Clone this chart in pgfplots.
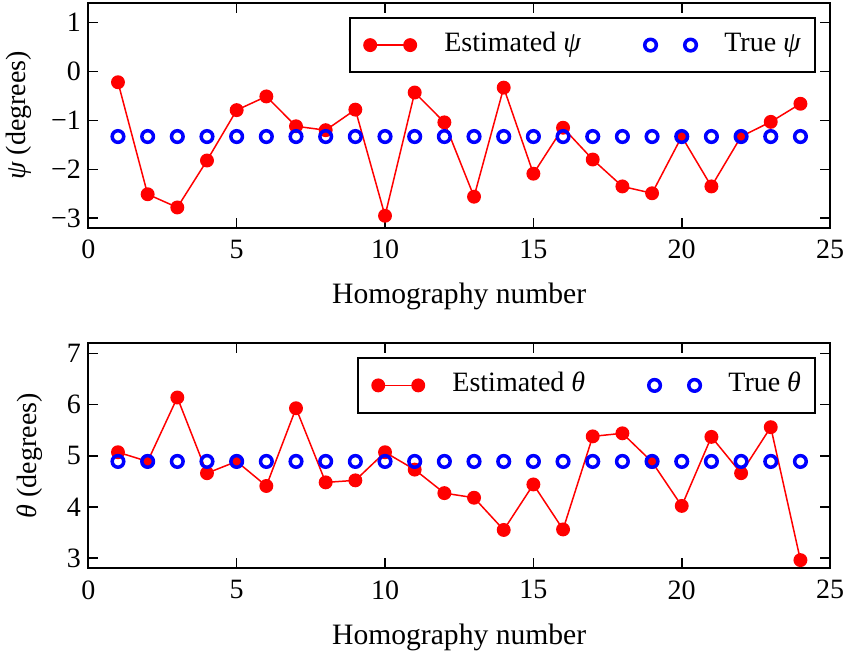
\documentclass[border=0pt]{standalone}
\usepackage{fontspec}
\setmainfont{Liberation Serif}
\usepackage{pgfplots}
\usepackage{pgfplotstable}
\pgfplotsset{compat=1.18}

% Estimated and true yaw angle per homography
\pgfplotstableread{
n  est    tru
1  -0.22  -1.33
2  -2.51  -1.33
3  -2.78  -1.33
4  -1.82  -1.33
5  -0.79  -1.33
6  -0.51  -1.33
7  -1.12  -1.33
8  -1.20  -1.33
9  -0.78  -1.33
10 -2.95  -1.33
11 -0.43  -1.33
12 -1.04  -1.33
13 -2.56  -1.33
14 -0.33  -1.33
15 -2.09  -1.33
16 -1.15  -1.33
17 -1.80  -1.33
18 -2.35  -1.33
19 -2.49  -1.33
20 -1.33  -1.33
21 -2.35  -1.33
22 -1.33  -1.33
23 -1.03  -1.33
24 -0.66  -1.33
}\psidata

% Estimated and true pitch angle per homography
\pgfplotstableread{
n  est   tru
1  5.07  4.89
2  4.89  4.89
3  6.14  4.89
4  4.66  4.89
5  4.89  4.89
6  4.41  4.89
7  5.93  4.89
8  4.48  4.89
9  4.52  4.89
10 5.07  4.89
11 4.73  4.89
12 4.27  4.89
13 4.18  4.89
14 3.55  4.89
15 4.44  4.89
16 3.56  4.89
17 5.38  4.89
18 5.44  4.89
19 4.88  4.89
20 4.02  4.89
21 5.37  4.89
22 4.66  4.89
23 5.56  4.89
24 2.96  4.89
}\thetadata

\pgfplotsset{
  hom/.style={
    scale only axis, width=370.9pt, height=112.5pt,
    xmin=0, xmax=25, xtick={0,5,...,25},
    axis line style={line width=1pt},
    tick style={line width=0.8pt, black},
    major tick length=5pt, tick align=inside,
    minor tick num=0,
    /pgf/number format/assume math mode=true,
    xticklabel style={inner sep=0pt, yshift=-5.85pt},
    yticklabel style={inner sep=0pt, xshift=-3.5pt},
    xlabel={Homography number},
    xlabel style={inner sep=0pt, font=\fontsize{14.8}{17}\selectfont,
      at={(axis description cs:0.5,0)}, anchor=north, yshift=-27.5pt},
    legend columns=2,
    legend cell align=left,
    legend style={
      at={(1,1)}, anchor=north east, xshift=-7.15pt, yshift=-6.9pt,
      draw=black, line width=1pt, fill=white,
      inner xsep=6.9pt, inner ysep=6.9pt,
      nodes={inner sep=0pt, text height=10pt, text depth=3.5pt},
      /tikz/every odd column/.append style={column sep=14pt},
      /tikz/every even column/.append style={column sep=31.8pt},
    },
  },
  estim/.style={
    red, line width=0.75pt, mark=*, mark size=3.1pt,
    mark options={fill=red, draw=red, solid},
    legend image code/.code={
      \draw[##1, mark repeat=1] plot coordinates {(0pt,0pt) (20pt,0pt)};
    },
  },
  truth/.style={
    blue, only marks, mark=o, mark size=2.9pt,
    mark options={line width=1.75pt, draw=blue},
    legend image code/.code={
      \draw[##1, mark repeat=1] plot coordinates {(0pt,0pt) (20pt,0pt)};
    },
  },
}

\begin{document}
\begin{tikzpicture}[font=\fontsize{14}{16}\selectfont, x=1pt, y=1pt]

\begin{axis}[hom,
  at={(44.15pt,213pt)}, anchor=south west,
  ymin=-3.2, ymax=1.4,
  ytick={-3,-2,-1,0,1},
  yticklabels={−3,−2,−1,0,1},
  ylabel={\textit{ψ} (degrees)},
  ylabel style={inner sep=0pt, at={(axis description cs:-0.0759,0.5)}, anchor=south, rotate=0},
]
\addplot[estim] table[x=n, y=est] {\psidata};
\addlegendentry{Estimated \textit{ψ}}
\addplot[truth] table[x=n, y=tru] {\psidata};
\addlegendentry{True \textit{ψ}}
\end{axis}

\begin{axis}[hom,
  at={(44.15pt,42.85pt)}, anchor=south west,
  ymin=2.8, ymax=7.2,
  ytick={3,4,5,6,7},
  ylabel={\textit{θ} (degrees)},
  ylabel style={inner sep=0pt, at={(axis description cs:-0.0611,0.5)}, anchor=south, rotate=0},
]
\addplot[estim] table[x=n, y=est] {\thetadata};
\addlegendentry{Estimated \textit{θ}}
\addplot[truth] table[x=n, y=tru] {\thetadata};
\addlegendentry{True \textit{θ}}
\end{axis}

\pgfresetboundingbox
\path[use as bounding box] (0pt,0pt) rectangle (425.5pt,327pt);
\end{tikzpicture}
\end{document}
